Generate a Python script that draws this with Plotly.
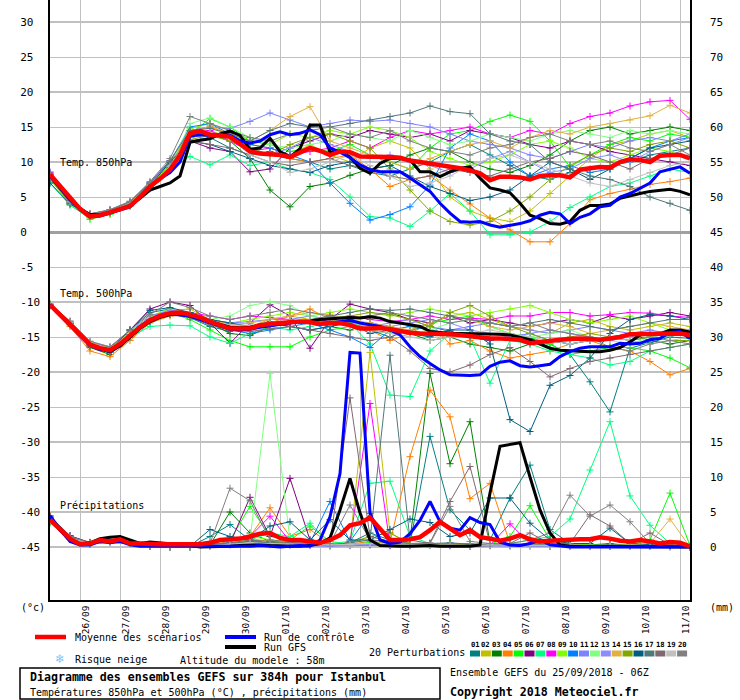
import plotly.graph_objects as go

# time axis (hours from 25/09/2018 06Z)
HOURS6 = list(range(0, 385, 6))
HOURS12 = list(range(0, 385, 12))
DATE_HOURS = [18, 42, 66, 90, 114, 138, 162, 186, 210, 234, 258, 282, 306, 330, 354, 378]
DATE_LABELS = ["26/09", "27/09", "28/09", "29/09", "30/09", "01/10", "02/10", "03/10",
               "04/10", "05/10", "06/10", "07/10", "08/10", "09/10", "10/10", "11/10"]
Y_TICKS = [-45, -40, -35, -30, -25, -20, -15, -10, -5, 0, 5, 10, 15, 20, 25, 30]
MM_TICKS = [0, 5, 10, 15, 20, 25, 30, 35, 40, 45, 50, 55, 60, 65, 70, 75]
MEMBERS = ["01", "02", "03", "04", "05", "06", "07", "08", "09", "10",
           "11", "12", "13", "14", "15", "16", "17", "18", "19", "20"]
MEMBER_COLORS = ["#008080", "#c0c000", "#008000", "#ff8000", "#00ff00", "#800080", "#00ff80",
                 "#ff00ff", "#80ff00", "#0080ff", "#8080ff", "#80ff80", "#8c8cff", "#e0b040",
                 "#80a800", "#005f80", "#507878", "#806870", "#c0c0c0", "#808080"]

# ---- 850 hPa (6-hourly: mean, control, GFS) ----
T850_MEAN = [8.2, 6.5, 4.8, 3.3, 2.2, 2.4, 2.8, 3.2, 3.7, 5.0,
             6.5, 7.6, 8.9, 11.0, 14.1, 14.4, 13.9, 13.8, 13.6, 12.6,
             11.5, 11.2, 11.1, 11.0, 10.7, 11.3, 12.0, 11.6, 11.0, 11.5,
             11.4, 10.8, 10.8, 10.8, 10.7, 10.6, 10.2, 10.0, 9.8, 9.6,
             9.4, 9.1, 8.8, 8.4, 7.4, 7.9, 7.9, 7.8, 7.5, 8.0,
             8.1, 8.1, 7.8, 8.9, 9.1, 9.3, 9.2, 10.0, 10.4, 10.3,
             10.0, 10.9, 11.0, 11.0, 10.5]
T850_CTRL = [8.0, 6.4, 4.6, 3.2, 2.2, 2.3, 2.7, 3.1, 3.6, 4.9,
             6.4, 7.6, 8.5, 10.0, 13.7, 13.9, 13.8, 13.9, 13.8, 13.0,
             12.7, 13.0, 13.9, 14.3, 13.9, 14.1, 14.6, 13.9, 12.0, 11.4,
             10.6, 9.6, 8.9, 8.6, 8.6, 8.6, 7.7, 6.7, 5.8, 4.1,
             2.7, 1.5, 1.4, 1.5, 1.0, 0.7, 0.9, 1.2, 1.6, 2.4,
             2.8, 2.6, 1.2, 2.1, 2.6, 3.6, 3.8, 5.0, 5.5, 6.3,
             7.0, 8.6, 9.0, 9.3, 8.4]
T850_GFS = [8.0, 6.3, 4.6, 3.3, 2.5, 2.5, 2.8, 3.3, 3.8, 4.8,
            6.0, 6.5, 7.0, 8.0, 12.8, 13.1, 13.3, 14.0, 14.4, 13.8,
            11.8, 12.0, 13.4, 11.5, 10.7, 11.9, 15.3, 15.3, 11.4, 11.6,
            10.7, 9.1, 8.4, 9.8, 10.5, 10.5, 10.3, 8.6, 8.6, 7.9,
            8.6, 9.1, 9.3, 7.7, 6.3, 6.0, 5.6, 4.1, 2.4, 1.9,
            1.2, 1.1, 1.5, 3.1, 3.8, 3.8, 4.0, 4.8, 5.2, 5.5,
            5.8, 6.0, 6.1, 5.8, 5.3]

# ---- 850 hPa perturbations (12-hourly) ----
T850_P01 = [8.0, 4.2, 2.3, 2.9, 4.0, 6.8, 9.5, 13.0, 13.5, 12.0, 11.0,
            11.5, 10.5, 10.0, 9.0, 9.5, 8.5, 8.0, 9.0, 10.0, 11.5, 12.5,
            11.0, 9.5, 8.0, 7.5, 8.5, 9.0, 9.5, 10.0, 11.0, 11.5, 12.0]
T850_P02 = [7.5, 4.0, 2.2, 2.8, 3.8, 6.5, 9.0, 13.8, 14.5, 13.5, 12.5,
            12.0, 11.0, 12.5, 11.0, 10.0, 12.0, 13.0, 12.0, 9.0, 5.0, 3.0,
            2.0, 1.5, 3.0, 5.5, 8.0, 10.5, 12.5, 13.0, 14.0, 14.5, 13.5]
T850_P03 = [8.2, 4.5, 2.4, 2.7, 3.7, 6.2, 9.2, 13.5, 14.0, 13.0, 10.5,
            6.0, 3.6, 6.5, 7.0, 8.1, 9.0, 9.5, 11.0, 12.0, 11.5, 10.0,
            9.0, 8.5, 9.5, 11.0, 13.0, 14.5, 15.0, 14.0, 14.5, 15.0, 14.5]
T850_P04 = [8.0, 4.3, 2.5, 3.0, 4.1, 6.8, 9.3, 14.5, 15.0, 14.0, 12.0,
            11.0, 10.5, 10.0, 10.5, 11.0, 9.0, 6.5, 7.5, 8.0, 6.0, 4.0,
            2.0, 0.3, -1.4, -1.4, 1.2, 4.6, 5.5, 6.1, 6.8, 7.2, 7.7]
T850_P05 = [7.8, 4.0, 1.8, 2.6, 3.8, 6.6, 9.6, 14.0, 16.2, 15.0, 13.0,
            12.5, 11.5, 12.0, 11.5, 12.5, 11.0, 10.0, 9.0, 12.0, 14.0, 14.5,
            15.8, 16.7, 15.8, 13.0, 9.3, 11.0, 12.5, 13.5, 13.0, 14.0, 13.5]
T850_P06 = [8.3, 4.5, 2.6, 3.1, 4.0, 6.4, 9.1, 13.0, 12.0, 11.5, 8.6,
            9.0, 12.0, 13.0, 14.0, 13.5, 14.5, 14.0, 13.5, 14.0, 13.0, 14.5,
            14.0, 13.5, 12.5, 12.0, 13.0, 12.5, 11.5, 11.0, 10.5, 10.0, 9.5]
T850_P07 = [7.0, 3.8, 2.0, 2.5, 3.9, 6.3, 9.0, 10.8, 9.6, 11.0, 9.5,
            10.0, 9.0, 8.5, 7.5, 5.0, 2.2, 2.0, 0.8, 3.0, 5.5, 3.0,
            -0.4, -0.4, 0.0, 1.5, 3.5, 5.0, 6.5, 7.0, 8.0, 9.0, 8.5]
T850_P08 = [8.5, 4.4, 2.4, 3.0, 4.2, 6.9, 9.8, 14.2, 14.5, 13.0, 11.5,
            12.0, 11.0, 11.5, 12.0, 13.0, 12.0, 13.5, 14.5, 14.0, 14.5, 15.0,
            14.0, 13.5, 14.5, 14.0, 15.5, 16.5, 17.0, 18.0, 18.6, 18.8, 16.1]
T850_P09 = [7.9, 4.1, 2.0, 2.6, 3.7, 6.7, 9.5, 14.8, 15.5, 14.5, 13.0,
            12.5, 14.0, 13.5, 14.5, 14.0, 15.0, 14.5, 13.5, 11.5, 10.5, 9.5,
            10.0, 11.0, 12.5, 13.0, 12.0, 10.5, 10.0, 11.0, 12.0, 11.5, 10.5]
T850_P10 = [8.0, 4.2, 2.3, 2.9, 4.1, 7.0, 10.0, 15.0, 15.5, 14.0, 12.5,
            12.0, 11.0, 10.0, 7.0, 4.1, 1.7, 2.5, 3.6, 6.7, 12.0, 14.0,
            13.0, 10.0, 8.0, 9.0, 9.5, 8.5, 9.0, 10.5, 12.0, 13.0, 13.5]
T850_P11 = [8.6, 4.6, 2.5, 3.2, 4.3, 7.1, 10.2, 14.5, 15.0, 14.8, 15.8,
            17.0, 16.0, 15.0, 15.5, 16.0, 15.8, 16.0, 15.5, 15.0, 14.0, 13.0,
            12.5, 12.0, 11.0, 10.5, 11.5, 12.5, 12.0, 13.0, 13.5, 13.0, 14.0]
T850_P12 = [7.7, 4.0, 2.1, 2.8, 3.9, 6.6, 9.3, 15.5, 16.3, 15.0, 13.5,
            12.5, 12.0, 12.5, 13.0, 14.0, 13.5, 13.0, 14.5, 13.5, 12.5, 13.0,
            14.0, 13.5, 13.0, 14.0, 14.5, 14.0, 13.5, 14.5, 14.0, 14.5, 14.0]
T850_P13 = [8.1, 4.2, 2.2, 2.8, 4.0, 6.5, 9.4, 13.5, 14.0, 13.5, 12.0,
            11.0, 12.0, 13.5, 12.5, 11.5, 10.5, 11.0, 10.0, 9.5, 8.5, 9.0,
            10.5, 11.5, 10.0, 8.5, 9.0, 10.5, 11.0, 10.0, 11.5, 12.5, 13.5]
T850_P14 = [8.0, 4.3, 2.4, 3.0, 4.2, 6.8, 9.7, 14.0, 15.2, 14.0, 13.0,
            14.5, 16.5, 17.9, 13.0, 12.0, 11.0, 10.0, 9.0, 10.5, 11.5, 12.5,
            13.0, 12.0, 13.5, 14.5, 14.0, 15.0, 15.5, 16.0, 16.6, 18.1, 17.0]
T850_P15 = [7.6, 4.1, 2.3, 2.7, 3.8, 6.4, 9.0, 13.2, 13.8, 13.0, 12.0,
            11.0, 12.5, 13.5, 14.0, 13.0, 12.0, 9.0, 6.0, 3.0, 1.5, 1.0,
            1.5, 3.0, 5.0, 7.5, 9.5, 11.0, 12.0, 11.5, 12.5, 13.0, 12.0]
T850_P16 = [7.0, 4.0, 2.4, 2.9, 4.0, 6.6, 10.0, 13.0, 12.5, 11.5, 10.5,
            9.5, 9.0, 8.5, 9.5, 10.0, 9.0, 9.5, 8.0, 6.5, 5.5, 4.5,
            5.0, 6.0, 8.0, 10.0, 9.0, 7.5, 9.0, 10.5, 12.0, 12.5, 13.0]
T850_P17 = [8.2, 4.4, 2.5, 3.1, 4.3, 7.0, 10.2, 14.5, 14.8, 14.0, 13.0,
            14.5, 15.5, 15.0, 15.0, 15.5, 16.0, 16.5, 17.0, 18.0, 17.2, 16.9,
            14.0, 13.0, 12.5, 10.0, 9.0, 8.0, 7.5, 6.5, 5.0, 4.1, 3.1]
T850_P18 = [7.8, 4.2, 2.2, 2.8, 3.9, 6.5, 9.2, 13.0, 12.5, 12.0, 11.0,
            10.0, 9.5, 10.0, 10.5, 9.5, 9.0, 8.0, 7.5, 8.0, 9.0, 8.5,
            8.0, 9.0, 10.0, 10.5, 11.5, 11.0, 10.0, 9.0, 10.5, 11.0, 12.0]
T850_P19 = [8.0, 4.3, 2.4, 3.0, 4.0, 6.6, 9.4, 13.8, 14.2, 13.5, 11.0,
            10.0, 8.5, 9.0, 10.0, 11.0, 9.5, 8.0, 6.5, 7.0, 8.0, 9.5,
            10.5, 11.0, 10.0, 9.0, 8.0, 7.0, 6.5, 7.5, 8.5, 9.5, 10.0]
T850_P20 = [8.4, 4.5, 2.6, 3.2, 4.4, 7.2, 10.5, 16.5, 15.5, 14.5, 13.5,
            13.0, 14.0, 14.5, 15.0, 14.0, 13.5, 14.5, 13.0, 12.0, 11.5, 11.0,
            12.0, 12.5, 13.5, 14.0, 13.0, 12.5, 13.0, 12.0, 11.5, 12.5, 11.0]

# ---- 500 hPa (6-hourly) ----
T500_MEAN = [-10.4, -11.8, -13.2, -14.7, -16.1, -16.6, -16.9, -16.0, -14.7, -13.6,
             -12.6, -12.0, -11.6, -11.5, -11.8, -12.2, -12.8, -13.3, -13.8, -13.8,
             -13.8, -13.3, -13.1, -13.0, -12.9, -12.8, -12.9, -13.1, -13.0, -13.0,
             -13.3, -13.8, -13.8, -13.7, -13.9, -14.2, -14.4, -14.5, -14.5, -14.5,
             -14.6, -14.7, -14.9, -15.1, -15.2, -15.2, -15.3, -15.4, -15.9, -15.7,
             -15.5, -15.4, -15.3, -15.2, -15.3, -15.4, -15.2, -15.0, -14.6, -14.6,
             -14.6, -14.6, -14.5, -14.5, -14.7]
T500_CTRL = [-10.4, -11.8, -13.3, -14.8, -16.2, -16.8, -17.0, -16.1, -14.8, -13.5,
             -12.5, -12.0, -11.7, -11.8, -12.0, -12.5, -13.0, -13.5, -13.9, -14.0,
             -13.9, -13.6, -13.4, -13.2, -13.0, -12.8, -12.9, -13.2, -13.0, -12.8,
             -12.6, -13.0, -13.2, -13.5, -14.0, -14.7, -16.4, -17.8, -18.8, -19.7,
             -20.4, -20.5, -20.5, -20.4, -19.2, -18.6, -18.4, -19.1, -19.3, -19.1,
             -18.9, -17.8, -17.1, -16.6, -16.4, -16.4, -16.4, -15.9, -16.0, -15.9,
             -15.4, -15.2, -14.4, -14.2, -15.2]
T500_GFS = [-10.4, -11.7, -13.1, -14.6, -16.0, -16.7, -17.1, -16.3, -15.0, -13.8,
            -12.8, -12.2, -11.8, -11.7, -12.0, -12.4, -12.9, -13.3, -13.6, -13.7,
            -13.6, -13.3, -13.2, -13.1, -13.0, -12.9, -12.7, -12.5, -12.4, -12.3,
            -12.2, -12.3, -12.1, -12.3, -12.8, -13.0, -13.2, -13.5, -14.2, -14.4,
            -14.5, -14.5, -14.5, -14.5, -14.5, -14.6, -14.7, -15.0, -15.4, -16.0,
            -16.6, -16.9, -17.0, -17.0, -17.1, -17.1, -16.9, -16.5, -15.7, -14.7,
            -14.5, -14.6, -14.0, -14.0, -14.3]

# ---- 500 hPa perturbations (12-hourly) ----
T500_P01 = [-10.5, -13.0, -16.3, -17.2, -14.0, -11.5, -11.0, -12.2, -13.5, -14.2, -13.5,
            -12.8, -13.5, -14.0, -13.5, -12.8, -14.0, -15.0, -14.0, -13.5, -14.2, -15.0,
            -15.5, -14.8, -15.2, -16.0, -17.5, -21.4, -25.7, -16.6, -15.8, -15.0, -15.2]
T500_P02 = [-10.3, -13.4, -16.0, -16.5, -14.5, -12.5, -11.2, -11.0, -12.5, -13.0, -13.5,
            -12.5, -12.0, -12.5, -13.0, -12.2, -12.0, -11.5, -12.5, -13.0, -12.0, -11.5,
            -12.5, -13.5, -14.0, -14.5, -13.0, -12.5, -13.5, -14.0, -13.5, -13.0, -13.5]
T500_P03 = [-10.4, -13.0, -16.5, -17.5, -15.0, -12.8, -11.8, -12.0, -13.0, -14.5, -14.8,
            -13.5, -13.0, -12.5, -13.5, -14.0, -13.0, -13.5, -14.5, -15.5, -15.0, -16.0,
            -16.5, -17.0, -16.0, -15.5, -16.0, -15.5, -15.0, -14.5, -15.5, -16.0, -15.5]
T500_P04 = [-10.6, -13.5, -17.0, -17.8, -15.5, -13.0, -12.0, -11.8, -12.5, -13.5, -13.8,
            -13.0, -12.0, -11.0, -12.5, -13.0, -14.0, -15.5, -14.5, -13.0, -16.0, -15.5,
            -17.0, -18.0, -17.5, -17.0, -16.0, -15.5, -16.5, -17.0, -18.5, -20.4, -19.5]
T500_P05 = [-10.3, -13.1, -16.2, -17.0, -14.8, -12.4, -11.5, -12.5, -14.0, -15.5, -16.4,
            -16.4, -16.4, -15.0, -14.0, -13.5, -14.0, -14.5, -14.0, -13.0, -12.5, -12.0,
            -13.5, -14.5, -15.0, -16.0, -17.5, -17.0, -16.5, -16.5, -17.0, -18.0, -19.4]
T500_P06 = [-10.4, -12.8, -15.8, -16.5, -14.0, -11.0, -10.0, -10.5, -13.0, -15.9, -13.0,
            -10.4, -12.0, -16.6, -12.5, -10.3, -11.0, -11.5, -12.5, -13.0, -12.0, -13.0,
            -12.5, -13.0, -13.5, -13.0, -12.5, -13.0, -12.0, -12.5, -12.0, -11.5, -12.0]
T500_P07 = [-10.5, -13.2, -16.0, -16.8, -15.0, -13.5, -13.3, -13.4, -15.0, -15.9, -14.5,
            -13.5, -14.0, -13.5, -13.0, -13.0, -16.0, -23.3, -23.5, -17.0, -14.5, -15.0,
            -21.6, -15.5, -16.0, -17.0, -17.5, -18.0, -19.0, -18.5, -17.0, -16.5, -16.0]
T500_P08 = [-10.4, -13.0, -16.0, -16.8, -14.5, -12.2, -11.2, -11.5, -12.0, -12.5, -12.0,
            -12.2, -12.5, -13.0, -12.5, -12.0, -12.5, -12.8, -12.5, -12.0, -12.5, -12.3,
            -12.5, -12.0, -12.0, -11.5, -11.5, -12.0, -11.8, -11.5, -11.6, -12.0, -12.2]
T500_P09 = [-10.3, -13.0, -16.1, -17.0, -14.8, -12.0, -11.0, -11.5, -12.5, -13.0, -12.5,
            -12.0, -11.5, -12.0, -11.5, -11.0, -11.5, -12.0, -11.5, -11.0, -11.5, -12.0,
            -11.5, -11.0, -10.5, -11.5, -12.5, -13.0, -12.5, -12.0, -13.0, -14.0, -15.0]
T500_P10 = [-10.4, -13.1, -16.3, -17.2, -15.0, -12.8, -11.8, -12.0, -13.0, -14.0, -14.5,
            -14.0, -13.5, -13.0, -14.0, -15.0, -16.5, -14.0, -13.5, -14.0, -14.5, -15.0,
            -15.5, -15.0, -14.5, -15.5, -16.0, -15.5, -15.0, -15.5, -15.0, -14.5, -14.0]
T500_P11 = [-10.5, -12.9, -15.7, -16.4, -14.2, -12.0, -11.2, -11.5, -12.5, -13.0, -12.8,
            -12.5, -12.5, -12.0, -12.5, -13.0, -13.5, -13.0, -12.5, -13.5, -14.0, -13.5,
            -13.0, -13.5, -14.0, -14.5, -14.0, -13.5, -14.0, -14.5, -14.0, -14.5, -14.5]
T500_P12 = [-10.4, -13.0, -16.0, -16.6, -14.3, -12.2, -11.5, -11.7, -12.5, -12.0, -10.5,
            -10.0, -10.5, -12.0, -12.5, -13.0, -13.5, -14.0, -14.5, -14.0, -13.0, -12.5,
            -13.5, -14.5, -15.0, -14.5, -14.0, -15.0, -15.5, -16.0, -15.0, -14.5, -15.0]
T500_P13 = [-10.4, -12.9, -15.9, -16.7, -14.6, -12.4, -11.6, -12.0, -12.8, -13.5, -13.8,
            -13.5, -13.0, -12.5, -13.0, -13.5, -14.0, -13.5, -13.0, -12.5, -13.0, -14.0,
            -14.5, -15.0, -14.5, -14.0, -14.5, -15.0, -15.5, -15.0, -14.5, -14.0, -14.5]
T500_P14 = [-10.3, -12.8, -15.8, -16.6, -14.4, -12.3, -11.4, -11.8, -12.6, -13.2, -13.0,
            -12.5, -12.0, -11.5, -11.8, -12.5, -13.0, -13.5, -14.0, -13.0, -12.0, -12.5,
            -13.5, -14.0, -13.5, -13.0, -13.5, -14.5, -14.0, -13.5, -13.0, -13.5, -14.0]
T500_P15 = [-10.5, -13.1, -16.1, -16.9, -14.7, -12.6, -11.7, -12.0, -12.8, -13.5, -13.5,
            -13.0, -12.8, -12.5, -12.2, -12.0, -11.5, -11.8, -12.5, -13.5, -11.5, -10.5,
            -12.0, -13.5, -14.5, -15.5, -15.0, -14.5, -15.0, -15.5, -15.0, -15.5, -15.5]
T500_P16 = [-10.5, -13.0, -16.0, -16.8, -14.0, -11.2, -10.8, -11.5, -12.5, -13.0, -13.5,
            -13.0, -13.5, -14.0, -13.5, -13.0, -14.5, -14.0, -14.5, -15.0, -14.0, -14.0,
            -16.0, -26.8, -28.5, -21.9, -20.5, -18.0, -14.5, -12.5, -11.8, -12.0, -12.5]
T500_P17 = [-10.4, -13.1, -16.2, -17.0, -14.7, -12.5, -11.5, -11.8, -12.7, -13.4, -13.5,
            -13.0, -12.8, -12.5, -12.0, -11.5, -11.0, -11.2, -11.0, -11.5, -12.0, -12.5,
            -13.0, -13.5, -13.0, -12.5, -13.0, -13.5, -14.0, -13.5, -13.0, -12.5, -12.5]
T500_P18 = [-10.4, -13.0, -16.1, -17.1, -14.8, -12.7, -11.7, -12.2, -13.3, -14.0, -14.2,
            -13.8, -13.5, -14.0, -14.5, -15.0, -15.5, -15.0, -17.0, -19.5, -20.0, -19.0,
            -17.5, -16.5, -18.5, -20.7, -19.5, -18.5, -18.0, -17.5, -17.0, -16.5, -16.0]
T500_P19 = [-10.4, -12.9, -15.9, -16.7, -14.5, -12.3, -11.4, -11.8, -12.7, -13.3, -13.3,
            -13.0, -12.7, -12.5, -13.0, -13.5, -14.0, -14.5, -15.0, -15.5, -15.0, -14.5,
            -14.0, -14.5, -15.0, -15.5, -16.0, -15.5, -15.0, -15.5, -16.0, -15.5, -15.0]
T500_P20 = [-10.3, -12.7, -15.6, -16.4, -14.0, -11.8, -10.0, -10.8, -12.0, -12.5, -12.0,
            -11.5, -11.0, -11.5, -12.0, -12.5, -12.0, -11.5, -12.0, -12.5, -13.0, -12.5,
            -13.0, -13.5, -13.0, -14.0, -14.5, -15.0, -16.5, -17.0, -16.0, -15.5, -16.0]

# ---- precipitation mm (6-hourly) ----
PREC_MEAN = [3.9, 2.5, 1.2, 0.4, 0.5, 1.0, 0.8, 1.1, 0.5, 0.5,
             0.4, 0.4, 0.4, 0.4, 0.4, 0.4, 0.6, 1.0, 1.1, 1.2,
             1.5, 1.9, 2.0, 1.3, 1.0, 1.0, 0.8, 0.6, 1.0, 1.7,
             3.1, 3.4, 4.2, 2.6, 1.0, 1.0, 1.1, 1.4, 2.4, 3.6,
             2.6, 1.7, 2.4, 1.4, 1.2, 0.9, 1.2, 1.7, 1.1, 0.8,
             0.9, 1.0, 1.1, 1.1, 1.1, 1.4, 1.2, 0.9, 0.8, 1.0,
             0.8, 0.5, 0.7, 0.6, 0.1]
PREC_CTRL = [4.5, 2.5, 0.8, 0.3, 0.3, 0.8, 0.6, 0.8, 0.3, 0.1,
             0.1, 0.1, 0.1, 0.1, 0.1, 0.1, 0.0, 0.0, 0.0, 0.0,
             0.1, 0.2, 0.1, 0.0, 0.1, 0.2, 0.1, 1.0, 4.3, 10.5,
             27.8, 27.7, 4.9, 1.0, 0.5, 0.7, 1.9, 3.8, 6.5, 3.6,
             2.7, 2.4, 4.2, 3.5, 3.2, 0.7, 0.3, 0.2, 0.5, 1.0,
             0.3, 0.1, 0.0, 0.0, 0.0, 0.0, 0.0, 0.0, 0.0, 0.0,
             0.0, 0.0, 0.0, 0.0, 0.0]
PREC_GFS = [4.2, 2.4, 1.0, 0.4, 0.6, 1.2, 1.4, 1.5, 1.0, 0.5,
            0.7, 0.6, 0.4, 0.3, 0.2, 0.0, 0.0, 0.0, 0.1, 0.2,
            0.3, 0.3, 0.2, 0.1, 0.1, 0.1, 0.2, 0.5, 1.3, 5.3,
            9.8, 4.9, 1.0, 0.2, 0.1, 0.1, 0.1, 0.2, 0.2, 0.1,
            0.1, 0.1, 0.1, 0.3, 7.7, 14.4, 14.7, 14.9, 10.0, 5.3,
            2.0, 0.3, 0.1, 0.1, 0.1, 0.1, 0.1, 0.1, 0.1, 0.1,
            0.1, 0.1, 0.1, 0.1, 0.0]

# ---- precipitation perturbations (12-hourly) ----
PREC_P01 = [3.5, 1.2, 0.4, 0.9, 0.5, 0.1, 0.0, 0.1, 1.5, 3.2, 1.0,
            0.5, 0.8, 0.5, 0.3, 0.6, 2.0, 1.0, 0.5, 15.8, 5.3, 2.4,
            1.0, 7.0, 11.7, 2.5, 0.5, 0.3, 0.5, 0.2, 0.1, 0.1, 0.0]
PREC_P02 = [3.8, 1.4, 0.6, 0.7, 0.5, 0.1, 0.0, 0.0, 0.2, 0.4, 0.6,
            0.5, 0.4, 0.3, 0.2, 0.5, 27.8, 2.0, 0.5, 0.3, 0.2, 0.1,
            0.2, 0.3, 0.4, 0.3, 0.2, 0.1, 0.1, 0.1, 0.1, 0.0, 0.0]
PREC_P03 = [4.2, 1.6, 0.5, 0.8, 0.6, 0.2, 0.0, 0.1, 0.3, 5.0, 2.0,
            0.8, 0.5, 0.5, 0.3, 0.4, 0.5, 0.6, 1.0, 24.8, 11.9, 17.9,
            0.5, 0.3, 0.5, 0.3, 0.2, 0.2, 0.3, 0.1, 0.2, 0.1, 0.0]
PREC_P04 = [4.5, 1.5, 0.7, 0.9, 0.6, 0.2, 0.1, 0.1, 0.3, 0.8, 1.5,
            5.6, 1.5, 2.5, 0.5, 0.4, 0.8, 0.6, 12.9, 22.4, 18.6, 6.9,
            9.1, 0.5, 0.3, 0.2, 0.3, 0.2, 0.2, 0.1, 0.1, 0.1, 0.0]
PREC_P05 = [3.6, 1.3, 0.4, 0.8, 0.5, 0.1, 0.0, 0.0, 0.5, 1.0, 5.8,
            1.5, 1.0, 3.0, 0.8, 0.4, 0.6, 0.5, 0.3, 0.4, 0.5, 0.3,
            0.4, 1.5, 5.9, 1.0, 0.5, 0.3, 0.2, 0.3, 1.0, 7.7, 0.2]
PREC_P06 = [4.0, 1.5, 0.6, 1.0, 0.6, 0.2, 0.1, 0.1, 0.2, 0.5, 7.1,
            1.5, 9.8, 1.0, 0.3, 0.2, 0.3, 0.2, 0.2, 0.3, 0.2, 0.1,
            0.2, 0.3, 0.2, 0.1, 0.1, 0.1, 0.1, 0.1, 0.1, 0.1, 0.0]
PREC_P07 = [3.4, 1.2, 0.5, 0.7, 0.5, 0.1, 0.0, 0.0, 0.3, 0.5, 1.0,
            2.0, 1.5, 3.4, 0.5, 0.8, 9.1, 9.4, 1.5, 0.5, 0.4, 0.5,
            0.3, 0.5, 1.0, 1.5, 4.0, 11.0, 17.9, 7.3, 3.1, 0.5, 0.1]
PREC_P08 = [4.3, 1.6, 0.6, 0.9, 0.6, 0.2, 0.1, 0.1, 0.2, 0.4, 1.5,
            4.4, 0.8, 0.5, 0.3, 0.6, 20.5, 0.3, 0.2, 0.3, 0.2, 0.2,
            0.3, 3.3, 0.5, 0.3, 0.2, 0.1, 0.1, 0.1, 0.1, 0.1, 0.0]
PREC_P09 = [3.7, 1.3, 0.5, 0.8, 0.5, 0.1, 0.0, 0.0, 0.2, 0.5, 1.5,
            1.0, 0.6, 0.5, 0.3, 0.3, 0.5, 0.4, 0.3, 0.3, 0.5, 0.4,
            0.3, 0.2, 0.3, 0.2, 0.1, 0.2, 0.1, 0.2, 0.1, 0.1, 0.0]
PREC_P10 = [4.1, 1.4, 0.5, 0.9, 0.6, 0.1, 0.0, 0.1, 0.4, 0.6, 0.8,
            0.5, 0.4, 0.6, 6.5, 0.8, 4.8, 0.5, 0.4, 0.3, 0.3, 0.2,
            0.3, 0.2, 0.3, 0.2, 0.2, 0.1, 0.1, 0.1, 0.1, 0.1, 0.0]
PREC_P11 = [3.9, 1.3, 0.4, 0.7, 0.5, 0.1, 0.0, 0.0, 0.1, 0.3, 0.4,
            0.3, 0.2, 0.2, 0.1, 0.2, 0.3, 0.2, 0.2, 0.2, 0.2, 0.1,
            0.2, 0.2, 0.1, 0.1, 0.1, 0.1, 0.1, 0.1, 0.1, 0.1, 0.0]
PREC_P12 = [3.5, 1.2, 0.5, 0.8, 0.5, 0.1, 0.0, 0.0, 0.2, 0.5, 1.0,
            24.8, 1.0, 0.5, 0.3, 0.3, 0.5, 0.4, 0.3, 0.2, 0.3, 0.2,
            0.2, 0.3, 0.2, 0.2, 0.1, 0.1, 0.2, 0.1, 0.1, 0.1, 0.0]
PREC_P13 = [3.8, 1.4, 0.5, 0.8, 0.5, 0.1, 0.0, 0.0, 0.2, 0.3, 0.5,
            0.4, 0.3, 0.2, 0.2, 0.3, 0.4, 0.3, 0.2, 0.3, 0.2, 0.2,
            0.2, 0.1, 0.2, 0.1, 0.1, 0.1, 0.1, 0.1, 0.1, 0.0, 0.0]
PREC_P14 = [4.0, 1.5, 0.5, 0.9, 0.6, 0.1, 0.0, 0.1, 0.3, 0.5, 1.2,
            0.8, 0.5, 0.6, 0.4, 0.5, 1.5, 0.8, 0.5, 0.4, 0.3, 0.3,
            0.5, 0.4, 0.3, 0.2, 0.3, 0.2, 0.2, 0.3, 0.5, 4.0, 0.0]
PREC_P15 = [3.6, 1.3, 0.5, 0.7, 0.5, 0.1, 0.0, 0.0, 0.2, 0.4, 0.8,
            0.6, 0.5, 0.4, 0.3, 0.6, 1.5, 2.0, 0.5, 0.3, 0.5, 0.4,
            0.3, 0.3, 0.5, 0.3, 0.2, 0.2, 0.3, 0.2, 0.2, 0.1, 0.0]
PREC_P16 = [4.4, 1.6, 0.6, 0.9, 0.6, 0.2, 0.1, 0.1, 2.5, 1.5, 1.0,
            3.0, 3.6, 1.0, 3.9, 1.0, 1.0, 2.5, 4.0, 3.5, 1.5, 2.0,
            7.0, 7.0, 3.4, 1.0, 0.5, 0.5, 2.7, 0.5, 0.3, 0.2, 0.0]
PREC_P17 = [3.7, 1.3, 0.5, 0.8, 0.5, 0.1, 0.0, 0.0, 0.2, 0.5, 0.8,
            0.6, 0.5, 0.4, 0.3, 0.6, 1.0, 27.4, 1.0, 0.5, 0.6, 0.4,
            0.3, 0.3, 0.4, 0.3, 0.3, 0.2, 0.3, 0.2, 0.2, 0.1, 0.0]
PREC_P18 = [4.0, 1.4, 0.5, 0.8, 0.6, 0.1, 0.0, 0.1, 0.3, 0.6, 1.0,
            0.8, 0.6, 0.5, 0.5, 21.3, 1.5, 0.8, 0.5, 0.6, 6.5, 11.5,
            0.5, 0.5, 2.0, 0.5, 0.5, 4.6, 3.0, 0.5, 2.0, 0.3, 0.0]
PREC_P19 = [3.8, 1.3, 0.5, 0.8, 0.5, 0.1, 0.0, 0.0, 0.2, 0.4, 0.6,
            0.5, 0.4, 0.3, 0.3, 0.4, 0.5, 0.4, 0.3, 0.3, 0.3, 0.2,
            0.3, 0.3, 0.2, 0.2, 0.2, 0.2, 0.2, 0.1, 0.1, 0.1, 0.0]
PREC_P20 = [4.2, 1.5, 0.6, 0.9, 0.6, 0.2, 0.1, 0.1, 0.5, 8.4, 6.6,
            1.0, 0.8, 0.6, 0.5, 6.0, 1.0, 0.8, 0.5, 0.5, 5.8, 0.8,
            0.5, 0.5, 1.0, 2.0, 7.4, 4.4, 6.0, 3.6, 0.5, 0.3, 0.0]

T850_PERT = [T850_P01, T850_P02, T850_P03, T850_P04, T850_P05, T850_P06, T850_P07,
             T850_P08, T850_P09, T850_P10, T850_P11, T850_P12, T850_P13, T850_P14,
             T850_P15, T850_P16, T850_P17, T850_P18, T850_P19, T850_P20]
T500_PERT = [T500_P01, T500_P02, T500_P03, T500_P04, T500_P05, T500_P06, T500_P07,
             T500_P08, T500_P09, T500_P10, T500_P11, T500_P12, T500_P13, T500_P14,
             T500_P15, T500_P16, T500_P17, T500_P18, T500_P19, T500_P20]
PREC_PERT = [PREC_P01, PREC_P02, PREC_P03, PREC_P04, PREC_P05, PREC_P06, PREC_P07,
             PREC_P08, PREC_P09, PREC_P10, PREC_P11, PREC_P12, PREC_P13, PREC_P14,
             PREC_P15, PREC_P16, PREC_P17, PREC_P18, PREC_P19, PREC_P20]

MONO = "DejaVu Sans Mono"
W, H = 740, 700
L, R, T, B = 50, 690, 0, 600   # plot area in pixels
Y_RANGE = [(232 - B) / 7, (232 - T) / 7]   # 7 px per degree, 0 degC at y=232
MM_OFFSET = 45                              # 0 mm sits on -45 degC


def px(x):
    return (x - L) / (R - L)


def py(y):
    return (B - y) / (B - T)


fig = go.Figure()

# perturbations
for series_list, axis in ((PREC_PERT, "y2"), (T500_PERT, "y"), (T850_PERT, "y")):
    for vals, col in zip(series_list, MEMBER_COLORS):
        fig.add_trace(go.Scatter(
            x=HOURS12, y=vals, yaxis=axis, mode="lines+markers",
            line=dict(color=col, width=1),
            marker=dict(symbol="cross-thin", size=5, line=dict(color=col, width=1)),
            hoverinfo="skip", showlegend=False))

# GFS, control, mean
for vals, axis in ((PREC_GFS, "y2"), (T500_GFS, "y"), (T850_GFS, "y")):
    fig.add_trace(go.Scatter(x=HOURS6, y=vals, yaxis=axis, mode="lines",
                             line=dict(color="#000000", width=3), hoverinfo="skip", showlegend=False))
for vals, axis in ((PREC_CTRL, "y2"), (T500_CTRL, "y"), (T850_CTRL, "y")):
    fig.add_trace(go.Scatter(x=HOURS6, y=vals, yaxis=axis, mode="lines",
                             line=dict(color="#0000ff", width=3), hoverinfo="skip", showlegend=False))
for vals, axis in ((PREC_MEAN, "y2"), (T500_MEAN, "y"), (T850_MEAN, "y")):
    fig.add_trace(go.Scatter(x=HOURS6, y=vals, yaxis=axis, mode="lines",
                             line=dict(color="#ff0000", width=4.5), hoverinfo="skip", showlegend=False))

# decorative thick-grid axis
fig.add_trace(go.Scatter(x=[None], y=[None], yaxis="y3", showlegend=False, hoverinfo="skip"))

left_text = [str(v).ljust(3, "\u00a0") for v in Y_TICKS]

fig.update_layout(
    width=W, height=H,
    margin=dict(l=L, r=W - R, t=T, b=H - B, pad=0),
    paper_bgcolor="white", plot_bgcolor="white",
    font=dict(family=MONO, size=11, color="black"),
    xaxis=dict(range=[0, 384], tickvals=DATE_HOURS, ticktext=DATE_LABELS,
               tickangle=-90, ticklabelshift=6, tickfont=dict(size=9.5),
               showgrid=True, gridcolor="#c0c0c0", gridwidth=1.3,
               showline=True, linecolor="black", linewidth=1.5,
               zeroline=False, ticks="", fixedrange=True),
    yaxis=dict(range=Y_RANGE, tickvals=Y_TICKS, ticktext=left_text,
               showgrid=True, gridcolor="#c0c0c0", gridwidth=1,
               showline=True, linecolor="black", linewidth=1.5,
               zeroline=False, ticks="", ticklabelstandoff=6),
    yaxis2=dict(range=[Y_RANGE[0] + MM_OFFSET, Y_RANGE[1] + MM_OFFSET],
                overlaying="y", side="right", tickvals=MM_TICKS,
                showgrid=False, zeroline=True, zerolinecolor="#c0c0c0", zerolinewidth=2,
                showline=True, linecolor="black", linewidth=1.5,
                ticks="", ticklabelstandoff=16),
    yaxis3=dict(range=Y_RANGE, overlaying="y", side="left",
                tickvals=[-40, -30, -20, -10, 0, 10, 20, 30], showticklabels=False,
                showgrid=True, gridcolor="#c0c0c0", gridwidth=2.2,
                zeroline=True, zerolinecolor="#a0a0a0", zerolinewidth=3, showline=False),
)

ann = []


def text(x, y, s, size=10, anchor="left", color="black"):
    ann.append(dict(x=px(x), y=py(y), xref="paper", yref="paper", text=s, showarrow=False,
                    xanchor=anchor, yanchor="middle", font=dict(family=MONO, size=size, color=color)))


text(58, 162, "Temp. 850hPa")
text(58, 293, "Temp. 500hPa")
text(58, 505, "Précipitations")
text(19, 607, "(°c)")
text(708, 607, "(mm)")
text(73, 637, "Moyenne des scénarios")
text(262, 637, "Run de contrôle")
text(262, 647, "Run GFS")
text(73, 659, "Risque neige")
text(178, 660, "Altitude du modele : 58m")
text(367, 652, "20 Perturbations")
text(53, 658, "❄", size=13, color="#7fbfff")
text(28, 677, "<b>Diagramme des ensembles GEFS sur 384h pour Istanbul</b>", size=11.6)
text(28, 692, "Températures 850hPa et 500hPa (°C) , précipitations (mm)")
text(448, 672, "Ensemble GEFS du 25/09/2018 - 06Z")
text(448, 692, "<b>Copyright 2018 Meteociel.fr</b>", size=11.6)

shapes = []
for (x0, x1, y0, col, wd) in ((35, 66, 637, "#ff0000", 4.5), (225, 256, 637, "#0000ff", 4),
                              (225, 256, 647, "#000000", 4)):
    shapes.append(dict(type="line", xref="paper", yref="paper", x0=px(x0), x1=px(x1),
                       y0=py(y0), y1=py(y0), line=dict(color=col, width=wd)))
shapes.append(dict(type="rect", xref="paper", yref="paper", x0=px(20), x1=px(440),
                   y0=py(668), y1=py(699), line=dict(color="black", width=1.5)))
for k, (name, col) in enumerate(zip(MEMBERS, MEMBER_COLORS)):
    bx = 470 + k * 10.9
    shapes.append(dict(type="rect", xref="paper", yref="paper", x0=px(bx), x1=px(bx + 10),
                       y0=py(656.5), y1=py(650.5), fillcolor=col, line=dict(width=0)))
    ann.append(dict(x=px(bx + 5), y=py(644), xref="paper", yref="paper", text="<b>" + name + "</b>",
                    showarrow=False, xanchor="center", yanchor="middle",
                    font=dict(family=MONO, size=7.2, color="black")))

fig.update_layout(annotations=ann, shapes=shapes)

fig.write_html("out.html", config={"displayModeBar": False},
               post_script="document.body.style.margin='0';")
